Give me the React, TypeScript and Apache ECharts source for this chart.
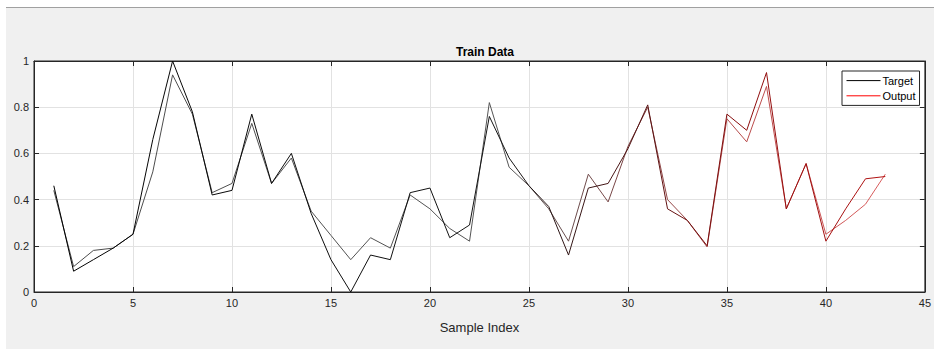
import React, { useEffect, useRef } from "react";
import * as echarts from "echarts";

const chartTitle = "Train Data";
const xAxisName = "Sample Index";
const seriesNames = ["Target", "Output"];
const sampleIndex = [
  1, 2, 3, 4, 5, 6, 7, 8, 9, 10, 11, 12, 13, 14, 15, 16, 17, 18, 19, 20, 21,
  22, 23, 24, 25, 26, 27, 28, 29, 30, 31, 32, 33, 34, 35, 36, 37, 38, 39, 40,
  41, 42, 43,
];
const target = [
  0.46, 0.09, 0.14, 0.19, 0.25, 0.66, 1.0, 0.78, 0.42, 0.44, 0.77, 0.47, 0.6,
  0.34, 0.14, 0.0, 0.16, 0.14, 0.43, 0.45, 0.235, 0.29, 0.76, 0.58, 0.46, 0.37,
  0.16, 0.45, 0.47, 0.62, 0.81, 0.36, 0.31, 0.2, 0.77, 0.7, 0.95, 0.36, 0.556,
  0.22, 0.36, 0.49, 0.5,
];
const output = [
  0.44, 0.11, 0.18, 0.19, 0.25, 0.52, 0.94, 0.77, 0.43, 0.47, 0.73, 0.47, 0.58,
  0.35, 0.245, 0.14, 0.235, 0.19, 0.42, 0.36, 0.275, 0.22, 0.82, 0.54, 0.46,
  0.36, 0.22, 0.51, 0.39, 0.63, 0.8, 0.4, 0.31, 0.195, 0.75, 0.65, 0.89, 0.36,
  0.556, 0.25, 0.31, 0.38, 0.51,
];
const xMin = 0;
const xMax = 45;
const xInterval = 5;
const yMin = 0;
const yMax = 1;
const yInterval = 0.2;

const tickFont = "'Liberation Sans Narrow', 'Arial Narrow', 'Liberation Sans', Arial, sans-serif";
const axisColor = "#262626";

export default function App() {
  const ref = useRef<HTMLDivElement>(null);
  useEffect(() => {
    if (!ref.current) return;
    const chart = echarts.init(ref.current, undefined, { renderer: "svg" });
    const targetGrad = new echarts.graphic.LinearGradient(0, 0, 1, 0, [
      { offset: 0, color: "#000000" },
      { offset: 0.55, color: "#151515" },
      { offset: 0.68, color: "#4a1515" },
      { offset: 0.83, color: "#8c0c0c" },
      { offset: 1, color: "#b31212" },
    ]);
    const outputGrad = new echarts.graphic.LinearGradient(0, 0, 1, 0, [
      { offset: 0, color: "#4a4a4a" },
      { offset: 0.55, color: "#555555" },
      { offset: 0.68, color: "#7a4545" },
      { offset: 0.83, color: "#b84a4a" },
      { offset: 1, color: "#da5d5d" },
    ]);
    const axisLabel = { color: axisColor, fontSize: 11, fontFamily: tickFont };
    chart.setOption({
      animation: false,
      backgroundColor: "#ffffff",
      graphic: [
        {
          type: "rect",
          z: -10,
          silent: true,
          shape: { x: 6, y: 8, width: 928, height: 341 },
          style: { fill: "#f0f0f0" },
        },
        {
          type: "line",
          z: -9,
          silent: true,
          shape: { x1: 6, y1: 7.5, x2: 934, y2: 7.5 },
          style: { stroke: "#a0a0a0", lineWidth: 1 },
        },
        {
          type: "rect",
          z: -8,
          silent: true,
          shape: { x: 34, y: 61, width: 891, height: 231 },
          style: { fill: "#ffffff" },
        },
      ],
      title: {
        text: chartTitle,
        left: 480,
        top: 41,
        textAlign: "center",
        textStyle: {
          fontSize: 12,
          fontWeight: "bold",
          color: "#000",
          fontFamily: "'Liberation Sans', Arial, sans-serif",
        },
      },
      legend: {
        orient: "vertical",
        left: 842,
        top: 71,
        padding: [4, 4, 4, 4],
        itemGap: 4,
        itemWidth: 34,
        itemHeight: 14,
        backgroundColor: "#ffffff",
        borderColor: axisColor,
        borderWidth: 1,
        borderRadius: 0,
        textStyle: { fontSize: 11, color: "#000", fontFamily: tickFont, padding: [0, 0, 0, -3] },
        data: [
          { name: seriesNames[0], lineStyle: { color: "#000000", width: 1 }, itemStyle: { color: "#000000", opacity: 0 } },
          { name: seriesNames[1], lineStyle: { color: "#ff0000", width: 1 }, itemStyle: { color: "#ff0000", opacity: 0 } },
        ],
      },
      grid: {
        left: 34,
        right: 9,
        top: 61,
        bottom: 57,
        show: true,
        borderColor: axisColor,
        borderWidth: 1,
        backgroundColor: "#ffffff",
      },
      xAxis: [
        {
          type: "value",
          min: xMin,
          max: xMax,
          interval: xInterval,
          name: xAxisName,
          nameLocation: "middle",
          nameGap: 29,
          nameTextStyle: { fontSize: 13, color: axisColor, fontFamily: tickFont },
          axisLine: { show: true, onZero: false, lineStyle: { color: axisColor } },
          axisTick: { show: true, inside: true, length: 5, lineStyle: { color: axisColor } },
          axisLabel: { ...axisLabel, margin: 5 },
          splitLine: { show: true, lineStyle: { color: "#e2e2e2", width: 1 } },
        },
        {
          type: "value",
          position: "top",
          min: xMin,
          max: xMax,
          interval: xInterval,
          axisLine: { show: true, onZero: false, lineStyle: { color: axisColor } },
          axisTick: { show: true, inside: true, length: 5, lineStyle: { color: axisColor } },
          axisLabel: { show: false },
          splitLine: { show: false },
        },
      ],
      yAxis: [
        {
          type: "value",
          min: yMin,
          max: yMax,
          interval: yInterval,
          axisLine: { show: true, onZero: false, lineStyle: { color: axisColor } },
          axisTick: { show: true, inside: true, length: 5, lineStyle: { color: axisColor } },
          axisLabel: { ...axisLabel, margin: 5 },
          splitLine: { show: true, lineStyle: { color: "#e2e2e2", width: 1 } },
        },
        {
          type: "value",
          position: "right",
          min: yMin,
          max: yMax,
          interval: yInterval,
          axisLine: { show: true, onZero: false, lineStyle: { color: axisColor } },
          axisTick: { show: true, inside: true, length: 5, lineStyle: { color: axisColor } },
          axisLabel: { show: false },
          splitLine: { show: false },
        },
      ],
      series: [
        {
          name: seriesNames[1],
          type: "line",
          xAxisIndex: 0,
          yAxisIndex: 0,
          symbol: "none",
          z: 3,
          lineStyle: { color: outputGrad, width: 1 },
          itemStyle: { color: "#ff0000" },
          data: sampleIndex.map((x, i) => [x, output[i]]),
        },
        {
          name: seriesNames[0],
          type: "line",
          xAxisIndex: 0,
          yAxisIndex: 0,
          symbol: "none",
          z: 4,
          lineStyle: { color: targetGrad, width: 1 },
          itemStyle: { color: "#000000" },
          data: sampleIndex.map((x, i) => [x, target[i]]),
        },
      ],
    });
    return () => chart.dispose();
  }, []);
  return (
    <div
      ref={ref}
      style={{ position: "fixed", left: 0, top: 0, width: 934, height: 349 }}
    />
  );
}
